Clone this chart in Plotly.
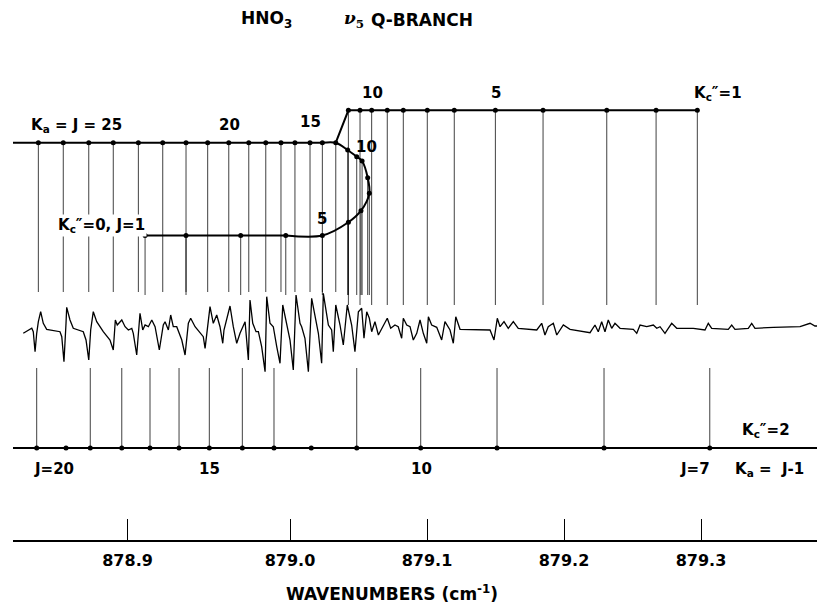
import plotly.graph_objects as go

# ---------------- data (wavenumbers in cm-1) ----------------
tick_values = [878.8814, 879.0, 879.1, 879.2, 879.3]   # printed tick positions (the printed scale is not uniform)
tick_labels = ["878.9", "879.0", "879.1", "879.2", "879.3"]

# Ka = J, Kc'' = 0/1 unresolved, J = 28 ... 13
kaj_J = list(range(28, 12, -1))
kaj_wn = [878.8163, 878.8345, 878.8531, 878.8710, 878.8893, 878.9071, 878.9241, 878.9399,
          878.9553, 878.9699, 878.9823, 878.9934, 879.0036, 879.0146, 879.0236, 879.0334]

# Ka = J, Kc'' = 0 branch, J = 12 ... 1
kc0_J = list(range(12, 0, -1))
kc0_wn = [879.0421, 879.0487, 879.0526, 879.0567, 879.0579, 879.0518, 879.0426, 879.0236,
          878.9969, 878.9640, 878.9241, 878.8942]
kc0_level = [150.0, 156.7, 161.0, 177.7, 193.3, 210.7, 222.3, 235.5, 235.5, 235.5, 235.5, 235.5]

# Ka = J, Kc'' = 1 branch, J = 12 ... 1
kc1_J = list(range(12, 0, -1))
kc1_wn = [879.0426, 879.0511, 879.0596, 879.0710, 879.0827, 879.1002, 879.1199, 879.1499,
          879.1847, 879.2312, 879.2672, 879.2973]

# Ka = J-1, Kc'' = 2, J = 21 ... 7
kc2_J = list(range(21, 6, -1))
kc2_wn = [878.8151, 878.8365, 878.8542, 878.8772, 878.8978, 878.9190, 878.9411, 878.9652,
          878.9883, 879.0155, 879.0487, 879.0954, 879.1511, 879.2292, 879.3064]
kc2_marked_J = [21, 19, 18, 17, 16, 15, 14, 13, 11, 10, 9, 8, 7]

# recorded spectrum (arbitrary signal units)
spec_wn = [878.8053, 878.8090, 878.8115, 878.8126, 878.8139, 878.8151, 878.8163, 878.8180, 878.8199, 878.8224,
           878.8272, 878.8321, 878.8334, 878.8350, 878.8365, 878.8370, 878.8394, 878.8418, 878.8491, 878.8511,
           878.8531, 878.8545, 878.8564, 878.8589, 878.8637, 878.8686, 878.8710, 878.8725, 878.8739, 878.8772,
           878.8796, 878.8820, 878.8845, 878.8856, 878.8881, 878.8905, 878.8925, 878.8942, 878.8966, 878.8991,
           878.9015, 878.9046, 878.9075, 878.9088, 878.9112, 878.9129, 878.9148, 878.9173, 878.9210, 878.9234,
           878.9258, 878.9275, 878.9307, 878.9343, 878.9367, 878.9380, 878.9404, 878.9416, 878.9440, 878.9465,
           878.9489, 878.9509, 878.9518, 878.9538, 878.9562, 878.9586, 878.9611, 878.9635, 878.9672, 878.9696,
           878.9708, 878.9728, 878.9752, 878.9769, 878.9793, 878.9818, 878.9830, 878.9854, 878.9878, 878.9903,
           878.9927, 878.9947, 878.9976, 879.0000, 879.0024, 879.0044, 879.0073, 879.0085, 879.0109, 879.0134,
           879.0158, 879.0183, 879.0207, 879.0231, 879.0243, 879.0280, 879.0304, 879.0316, 879.0334, 879.0365,
           879.0389, 879.0418, 879.0450, 879.0474, 879.0499, 879.0523, 879.0540, 879.0560, 879.0579, 879.0596,
           879.0620, 879.0645, 879.0681, 879.0710, 879.0735, 879.0766, 879.0790, 879.0815, 879.0827, 879.0852,
           879.0876, 879.0900, 879.0925, 879.0949, 879.0973, 879.0998, 879.1010, 879.1034, 879.1071, 879.1107,
           879.1131, 879.1168, 879.1192, 879.1210, 879.1241, 879.1350, 879.1460, 879.1489, 879.1513, 879.1533,
           879.1562, 879.1593, 879.1630, 879.1666, 879.1801, 879.1837, 879.1861, 879.1885, 879.1922, 879.1947,
           879.1995, 879.2044, 879.2166, 879.2190, 879.2226, 879.2250, 879.2275, 879.2299, 879.2323, 879.2348,
           879.2372, 879.2409, 879.2506, 879.2531, 879.2555, 879.2604, 879.2652, 879.2677, 879.2701, 879.2737,
           879.2761, 879.2786, 879.2823, 879.2944, 879.3029, 879.3053, 879.3078, 879.3199, 879.3224, 879.3248,
           879.3345, 879.3370, 879.3394, 879.3528, 879.3723, 879.3796, 879.3832, 879.3905]
spec_signal = [-3.3, 0, 1.7, -1.7, -21.7, -3.3, 8.3, 18.3, 6.7, 0.7,
               -0.7, -1.7, -6.7, -31.7, 6.7, 22.7, 10, 1.7, -1.7, -10,
               -30, 0, 18.3, 8.3, -1.7, -10, -20, 10, 5, 10,
               3.3, 0, 1.7, -3.3, -25, 16.7, 0, 5, 3.3, 10,
               3.3, -20, 5, 8.3, 0, 15, 3.3, 3.3, -10, -25,
               6.7, 11.7, 3.3, -3.3, -6.7, -18.3, 11.7, 23.3, 6.7, 15,
               3.3, -13.3, 0, 10, 24, 3.3, -13.3, -3.3, 8.3, -30,
               30, 6.7, -1.7, -1.7, -16.7, -41.7, 33.3, 6.7, 3.3, -16.7,
               -33.3, 25, 6.7, -10, -40, 35, 6.7, 3.3, -8.3, -41.7,
               31.7, 13.3, -3.3, -33.3, 36.7, 5, 0, -21.7, 25, 5,
               -15, 25, 5, -21.7, 18.3, 21.7, -8.3, 18.3, 11.7, -1.7,
               8.3, -5, 5, 11.7, 1.7, 5, 3.3, -8.3, 11.7, 5,
               3.3, -10, -3.3, 10, -3.3, -13.3, 13.3, 5, 2.7, -10,
               8.3, 0, -13.3, 13.3, 0.7, 0, 0, -10, 11.7, 3.3,
               8.3, 1.7, 8.3, 1.7, 0, 6.7, -5, 3.3, 6.7, -5,
               5, 0.7, -1.7, -2.7, 5, -1.7, 8.3, -1.7, 10, 1.7,
               6.7, 1.7, 0.7, -3.3, 5, 3.3, 5, 1.7, 3.3, -3.3,
               1.7, 6.7, 1.7, 1.7, 0, 6.7, 1.7, 0.7, 5, 0.7,
               1.7, 6.7, 1.7, 2.7, 3.3, 6.7, 4, 4]

# ---------------- schematic layout ----------------
# The page body has an 8 px margin, so the figure is 817 x 598 and vertical positions
# are expressed as rows of the 825 x 606 page.
W, H, OFF = 817, 598, 8
X_MIN, X_MAX = 878.7978, 879.3905
ROW_KC1, ROW_KAJ, ROW_KC0, ROW_KC2 = 110.3, 142.7, 235.5, 448.0
STICK_END_TOP, STICK_END_KC1, STICK_END_KC2 = 292.0, 305.0, 368.0
SPEC_ZERO_ROW = 330.0
AXIS_ROW = 541.0

FONT = "DejaVu Sans"
fig = go.Figure()


def px_x(p):      # page pixel -> paper fraction
    return (p - OFF) / W


def px_y(r):
    return (606 - r) / H


def sticks(xs, y0s, y1s):
    X, Y = [], []
    for x, a, b in zip(xs, y0s, y1s):
        X += [x, x, None]
        Y += [a, b, None]
    return X, Y


stick_x, stick_y = [], []
kc2_sel = [w for w, j in zip(kc2_wn, kc2_J) if j in kc2_marked_J]
for xs, y0, y1 in [
    (kaj_wn, [ROW_KAJ] * len(kaj_wn), [STICK_END_TOP] * len(kaj_wn)),
    (kc0_wn, kc0_level, [STICK_END_TOP + 3] * len(kc0_wn)),
    (kc1_wn, [ROW_KC1] * len(kc1_wn), [STICK_END_KC1] * len(kc1_wn)),
    (kc2_sel, [ROW_KC2] * len(kc2_sel), [STICK_END_KC2] * len(kc2_sel)),
]:
    X, Y = sticks(xs, y0, y1)
    stick_x += X
    stick_y += Y

fig.add_trace(go.Scatter(x=stick_x, y=stick_y, mode="lines",
                         line=dict(color="rgba(0,0,0,0.75)", width=1), hoverinfo="skip"))

# Ka = J level line (merged part)
fig.add_trace(go.Scatter(x=[X_MIN] + kaj_wn[:-1], y=[ROW_KAJ] * len(kaj_wn),
                         mode="lines", line=dict(color="black", width=2)))
# Kc''=0 branch: curved part (J=14 ... 4)
curve_x = [kaj_wn[-2], kaj_wn[-1]] + kc0_wn[:9]
curve_y = [ROW_KAJ, ROW_KAJ] + kc0_level[:9]
fig.add_trace(go.Scatter(x=curve_x, y=curve_y, mode="lines",
                         line=dict(color="black", width=2, shape="spline", smoothing=0.9)))
# Kc''=0 straight part (J=4 ... 1)
fig.add_trace(go.Scatter(x=kc0_wn[8:], y=kc0_level[8:], mode="lines",
                         line=dict(color="black", width=2)))
# Kc''=1 branch
fig.add_trace(go.Scatter(x=[kaj_wn[-1]] + kc1_wn, y=[ROW_KAJ] + [ROW_KC1] * len(kc1_wn),
                         mode="lines", line=dict(color="black", width=2)))
# Kc''=2 (Ka = J-1) level line
fig.add_trace(go.Scatter(x=[X_MIN] + kc2_wn + [X_MAX], y=[ROW_KC2] * (len(kc2_wn) + 2),
                         mode="lines", line=dict(color="black", width=2)))

# dots
dot_x = kaj_wn + kc0_wn + kc1_wn + kc2_wn
dot_y = [ROW_KAJ] * len(kaj_wn) + kc0_level + [ROW_KC1] * len(kc1_wn) + [ROW_KC2] * len(kc2_wn)
fig.add_trace(go.Scatter(x=dot_x, y=dot_y, mode="markers",
                         marker=dict(color="black", size=5)))

# spectrum
fig.add_trace(go.Scatter(x=spec_wn, y=spec_signal, yaxis="y2", mode="lines",
                         line=dict(color="black", width=1.3)))


def label(text, x, y, size=15, xanchor="center", bg=None, xref="x", yref="y", family=FONT, weight="bold"):
    fig.add_annotation(text=text, x=x, y=y, xref=xref, yref=yref, showarrow=False,
                       xanchor=xanchor, yanchor="middle",
                       font=dict(family=family, size=size, color="black", weight=weight),
                       bgcolor=bg, borderpad=1)


label("K<sub>a</sub> = J = 25", 878.8438, 125)
label("20", 878.9555, 125)
label("15", 879.0153, 122)
label("10", 879.0599, 93)
label("5", 879.1504, 93)
label("K<sub>c</sub>\u2033=1", 879.2934, 93, xanchor="left")
label("10", 879.0560, 147)
label("5", 879.0234, 219)
label("K<sub>c</sub>\u2033=0, J=1", 878.8624, 225, bg="white")
label("J=20", 878.8277, 469)
label("15", 878.9409, 469)
label("10", 879.0961, 469)
label("J=7", 879.3080, 469, xanchor="right")
label("K<sub>a</sub> =  J-1", 879.3234, 469, xanchor="left")
label("K<sub>c</sub>\u2033=2", 879.3285, 430, xanchor="left")

# title and axis title
label("HNO<sub>3</sub>", px_x(266), px_y(20), size=17, xref="paper", yref="paper")
label("<i>\u03bd</i><sub>5</sub>", px_x(342), px_y(20), size=17, xanchor="left",
      xref="paper", yref="paper", family="DejaVu Serif")
label("Q-BRANCH", px_x(369), px_y(20), size=17, xanchor="left", xref="paper", yref="paper")
label("WAVENUMBERS (cm<sup>-1</sup>)", px_x(392), px_y(593), size=17, xref="paper", yref="paper")

fig.update_layout(
    width=W, height=H, margin=dict(l=0, r=0, t=0, b=0),
    paper_bgcolor="white", plot_bgcolor="white", showlegend=False,
    xaxis=dict(domain=[(13 - OFF) / W, 1], range=[X_MIN, X_MAX], anchor="free", position=px_y(AXIS_ROW),
               showgrid=False, zeroline=False, showline=True, linecolor="black", linewidth=1.5,
               ticks="inside", ticklen=21, tickwidth=1.3, tickcolor="black",
               tickvals=tick_values, ticktext=tick_labels, ticklabelstandoff=5,
               tickfont=dict(family=FONT, size=16, color="black", weight="bold")),
    yaxis=dict(domain=[0, 1], range=[606, OFF], visible=False),
    yaxis2=dict(domain=[0, 1], range=[SPEC_ZERO_ROW - 606, SPEC_ZERO_ROW - OFF],
                overlaying="y", visible=False),
)

fig.write_html("out.html")
